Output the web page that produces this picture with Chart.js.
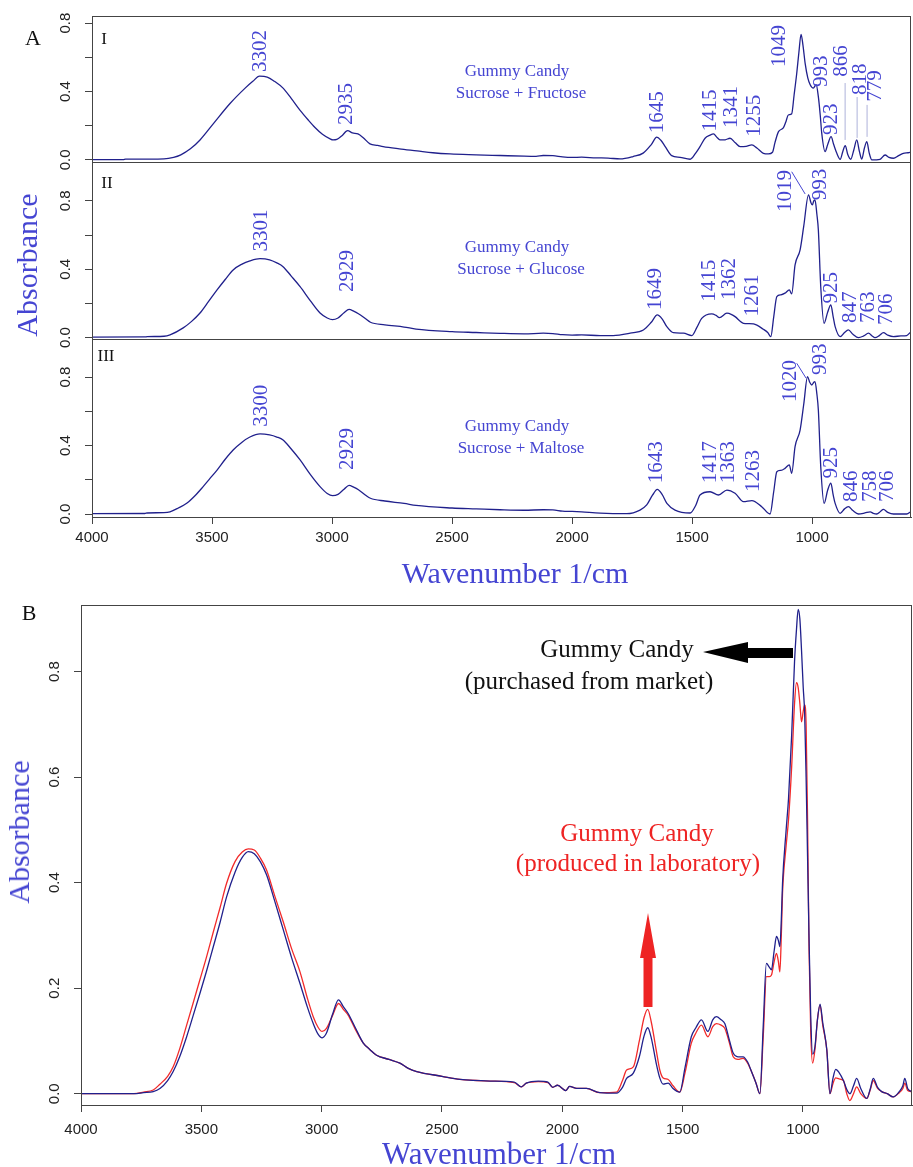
<!DOCTYPE html>
<html>
<head>
<meta charset="utf-8">
<script src="https://cdn.jsdelivr.net/npm/chart.js@4.4.0/dist/chart.umd.min.js"></script>
<style>
body { margin: 0; background: #fff; }
#wrap { position: relative; width: 913px; height: 1167px; overflow: hidden; background: #fff; }
canvas { position: absolute; left: 0; }
.t { position: absolute; transform: translate(-50%, -50%); white-space: nowrap; font-family: "Liberation Serif", serif; line-height: 1; color: #111; }
.blue { color: #4545d2; }
.red { color: #ee2424; }
.rot { transform: translate(-50%, -50%) rotate(-90deg); }
</style>
</head>
<body>
<div id="wrap">
  <canvas id="cI" width="913" height="178" style="top:0px"></canvas>
  <canvas id="cII" width="913" height="212" style="top:140px"></canvas>
  <canvas id="cIII" width="913" height="270" style="top:320px"></canvas>
  <canvas id="cB" width="913" height="587" style="top:580px"></canvas>

  <div class="t" style="left:33px;top:38px;font-size:22px">A</div>
  <div class="t" style="left:104px;top:38px;font-size:17px">I</div>
  <div class="t" style="left:107px;top:182px;font-size:17px">II</div>
  <div class="t" style="left:106px;top:355px;font-size:17px">III</div>
  <div class="t blue" style="left:517px;top:70px;font-size:17px">Gummy Candy</div>
  <div class="t blue" style="left:521px;top:92px;font-size:17px">Sucrose + Fructose</div>
  <div class="t blue" style="left:517px;top:246px;font-size:17px">Gummy Candy</div>
  <div class="t blue" style="left:521px;top:268px;font-size:17px">Sucrose + Glucose</div>
  <div class="t blue" style="left:517px;top:425px;font-size:17px">Gummy Candy</div>
  <div class="t blue" style="left:521px;top:447px;font-size:17px">Sucrose + Maltose</div>
  <div class="t blue rot" style="left:27px;top:265px;font-size:30px">Absorbance</div>
  <div class="t blue" style="left:515px;top:573px;font-size:30px">Wavenumber 1/cm</div>

  <div class="t" style="left:29px;top:613px;font-size:22px">B</div>
  <div class="t blue rot" style="left:19px;top:832px;font-size:30px">Absorbance</div>
  <div class="t blue" style="left:499px;top:1153px;font-size:31px">Wavenumber 1/cm</div>
  <div class="t" style="left:617px;top:648px;font-size:25px">Gummy Candy</div>
  <div class="t" style="left:589px;top:680px;font-size:25px">(purchased from market)</div>
  <div class="t red" style="left:637px;top:832px;font-size:25px">Gummy Candy</div>
  <div class="t red" style="left:638px;top:862px;font-size:25px">(produced in laboratory)</div>
</div>
<script>
// spectrum I : sucrose + fructose
const wnI = [4000,3870,3860,3760,3700,3660,3630,3590,3550,3490,
  3425,3362,3330,3302,3270,3240,3204,3170,3133,3100,
  3071,3040,3008,2996,2980,2960,2935,2915,2892,2870,
  2842,2810,2787,2720,2646,2580,2508,2400,2300,2200,
  2150,2120,2080,2040,2000,1960,1900,1850,1800,1746,
  1704,1670,1647,1630,1612,1585,1550,1508,1485,1467,
  1446,1425,1411,1395,1383,1362,1342,1320,1300,1275,
  1251,1230,1203,1182,1165,1155,1140,1120,1110,1099,
  1085,1075,1064,1055,1046,1038,1029,1018,1008,995,
  983,974,966,960,946,935,921,910,897,883,
  872,862,851,839,826,814,803,793,782,772,
  762,751,717,696,680,661,640,620,600,588];
const absI = [0.002,0.002,0.005,0.005,0.006,0.015,0.03,0.065,0.117,0.22,
  0.33,0.42,0.46,0.49,0.485,0.46,0.42,0.36,0.29,0.235,
  0.19,0.15,0.123,0.117,0.12,0.14,0.171,0.158,0.152,0.13,
  0.094,0.085,0.078,0.065,0.053,0.042,0.035,0.03,0.026,0.022,
  0.021,0.026,0.025,0.018,0.015,0.016,0.012,0.011,0.006,0.02,
  0.04,0.09,0.133,0.115,0.078,0.025,0.015,0.004,0.04,0.078,
  0.127,0.145,0.152,0.13,0.117,0.118,0.127,0.1,0.078,0.08,
  0.088,0.07,0.039,0.035,0.045,0.1,0.166,0.187,0.22,0.263,
  0.27,0.38,0.507,0.63,0.735,0.67,0.565,0.48,0.44,0.42,
  0.44,0.37,0.26,0.158,0.049,0.09,0.136,0.09,0.039,0.004,
  0.05,0.084,0.03,0.004,0.06,0.117,0.05,0.005,0.07,0.107,
  0.04,0.0,0.004,0.029,0.015,0.01,0.025,0.039,0.042,0.045];

// spectrum II : sucrose + glucose
const wnII = [4000,3780,3770,3700,3675,3620,3585,3550,3515,3479,
  3445,3412,3375,3342,3300,3260,3230,3204,3170,3133,
  3090,3050,3020,2998,2975,2950,2929,2910,2890,2860,
  2840,2780,2700,2650,2500,2400,2300,2200,2120,2080,
  2040,2000,1960,1883,1829,1758,1703,1670,1645,1625,
  1605,1578,1536,1501,1480,1460,1418,1400,1386,1355,
  1335,1321,1286,1265,1244,1203,1185,1172,1160,1147,
  1130,1113,1095,1085,1071,1050,1035,1015,1005,999,
  993,988,980,974,964,950,935,922,912,904,
  883,865,849,830,807,785,765,750,738,720,
  703,685,661,630,606,588];
const absII = [0.003,0.004,0.006,0.008,0.016,0.057,0.095,0.144,0.21,0.279,
  0.34,0.396,0.43,0.449,0.462,0.455,0.437,0.415,0.36,0.298,
  0.215,0.144,0.115,0.105,0.115,0.145,0.165,0.155,0.14,0.11,
  0.09,0.075,0.062,0.05,0.035,0.03,0.025,0.022,0.026,0.024,
  0.017,0.015,0.016,0.012,0.012,0.026,0.045,0.09,0.133,0.11,
  0.064,0.029,0.026,0.012,0.06,0.113,0.139,0.13,0.117,0.143,
  0.135,0.123,0.084,0.082,0.08,0.049,0.03,0.006,0.12,0.24,
  0.25,0.26,0.279,0.256,0.425,0.513,0.65,0.835,0.79,0.776,
  0.8,0.805,0.72,0.63,0.298,0.084,0.15,0.191,0.12,0.064,
  0.006,0.03,0.045,0.02,0.0,0.01,0.026,0.01,0.0,0.012,
  0.029,0.015,0.006,0.01,0.012,0.035];

// spectrum III : sucrose + maltose
const wnIII = [4000,3780,3770,3700,3675,3640,3604,3570,3537,3510,
  3479,3445,3412,3375,3342,3300,3260,3230,3204,3170,
  3133,3090,3050,3020,2998,2975,2950,2929,2910,2890,
  2860,2840,2780,2700,2650,2500,2400,2300,2200,2120,
  2080,2040,2000,1960,1883,1772,1717,1689,1665,1645,
  1625,1605,1571,1508,1485,1467,1425,1390,1355,1321,
  1286,1251,1210,1175,1160,1147,1130,1113,1095,1085,
  1071,1050,1035,1019,1010,1001,993,988,980,974,
  964,950,935,922,912,904,883,865,849,830,
  807,780,758,745,731,715,703,685,661,606,
  588];
const absIII = [0.002,0.003,0.006,0.008,0.013,0.035,0.064,0.108,0.16,0.205,
  0.257,0.32,0.374,0.42,0.45,0.468,0.462,0.45,0.433,0.38,
  0.316,0.23,0.16,0.12,0.107,0.115,0.145,0.167,0.157,0.142,
  0.11,0.092,0.076,0.062,0.05,0.035,0.03,0.025,0.022,0.025,
  0.024,0.017,0.015,0.012,0.005,0.002,0.023,0.053,0.11,0.144,
  0.115,0.062,0.023,0.006,0.05,0.111,0.13,0.111,0.14,0.121,
  0.072,0.078,0.043,0.0,0.13,0.247,0.255,0.267,0.287,0.238,
  0.394,0.491,0.64,0.803,0.77,0.754,0.77,0.774,0.7,0.608,
  0.277,0.062,0.14,0.18,0.11,0.062,0.004,0.03,0.043,0.02,
  0.0,0.006,0.013,0.004,0.0,0.015,0.027,0.01,0.0,0.0,
  0.014];

// panel B : market (navy) vs laboratory (red)
const wnB = [4000,3780,3740,3700,3672,3640,3617,3590,3561,3534,
  3506,3478,3450,3422,3395,3360,3330,3305,3280,3255,
  3229,3195,3159,3125,3090,3060,3035,3015,2998,2980,
  2955,2930,2910,2890,2860,2827,2800,2772,2720,2675,
  2640,2605,2500,2425,2300,2200,2170,2150,2100,2060,
  2040,2020,1985,1970,1940,1900,1844,1775,1750,1733,
  1705,1680,1660,1645,1630,1610,1595,1581,1560,1540,
  1512,1490,1464,1445,1422,1395,1375,1360,1340,1325,
  1305,1290,1270,1249,1230,1214,1195,1179,1165,1152,
  1140,1131,1120,1110,1102,1096,1090,1085,1070,1060,
  1047,1035,1027,1020,1013,1006,999,993,987,981,
  975,968,960,950,940,929,918,901,888,875,
  864,850,832,818,805,790,777,760,735,720,
  708,690,673,650,625,600,585,577,565,549];
const absMarket = [0,0,0.002,0.004,0.01,0.025,0.042,0.07,0.108,0.148,
  0.19,0.233,0.279,0.325,0.373,0.42,0.448,0.459,0.455,0.44,
  0.415,0.365,0.31,0.258,0.209,0.165,0.133,0.113,0.106,0.115,
  0.15,0.178,0.165,0.152,0.125,0.096,0.084,0.073,0.065,0.058,
  0.048,0.042,0.033,0.027,0.024,0.022,0.013,0.02,0.024,0.022,
  0.012,0.016,0.006,0.014,0.01,0.01,0.002,0.001,0.012,0.029,
  0.039,0.07,0.11,0.125,0.105,0.058,0.03,0.018,0.02,0.01,
  0.003,0.05,0.108,0.125,0.14,0.118,0.14,0.146,0.14,0.133,
  0.1,0.077,0.07,0.07,0.06,0.042,0.02,0.0,0.13,0.247,
  0.24,0.235,0.27,0.298,0.29,0.279,0.33,0.399,0.5,0.56,
  0.68,0.82,0.88,0.918,0.9,0.84,0.77,0.72,0.6,0.45,
  0.3,0.15,0.075,0.09,0.14,0.17,0.135,0.083,0.0,0.03,
  0.046,0.04,0.025,0.008,0.0,0.015,0.029,0.01,-0.009,0.01,
  0.029,0.012,0.004,0.0,-0.006,0.004,0.015,0.029,0.01,0.004];
const absLab = [0,0,0.003,0.007,0.018,0.033,0.051,0.085,0.13,0.172,
  0.216,0.26,0.307,0.353,0.399,0.44,0.458,0.464,0.462,0.447,
  0.424,0.375,0.325,0.275,0.231,0.182,0.146,0.126,0.118,0.124,
  0.148,0.171,0.16,0.149,0.122,0.096,0.084,0.073,0.065,0.058,
  0.048,0.042,0.033,0.027,0.024,0.021,0.013,0.02,0.023,0.021,
  0.012,0.016,0.006,0.014,0.01,0.01,0.002,0.003,0.025,0.045,
  0.051,0.1,0.145,0.16,0.135,0.083,0.045,0.03,0.027,0.015,
  0.003,0.04,0.096,0.115,0.13,0.108,0.127,0.133,0.13,0.124,
  0.095,0.07,0.065,0.067,0.058,0.042,0.02,0.0,0.11,0.222,
  0.222,0.225,0.25,0.266,0.25,0.231,0.3,0.38,0.47,0.52,
  0.62,0.74,0.779,0.77,0.74,0.705,0.725,0.737,0.7,0.52,
  0.28,0.12,0.058,0.085,0.14,0.168,0.13,0.083,0.0,0.02,
  0.03,0.028,0.025,0.0,-0.013,0.0,0.013,0.0,-0.009,0.008,
  0.025,0.01,0.004,0.0,-0.006,0.002,0.01,0.02,0.006,0.004];

const xTicks = [4000, 3500, 3000, 2500, 2000, 1500, 1000];
const xTickLabels = ['4000', '3500', '3000', '2500', '2000', '1500', '1000'];
const yTicks = [0, 0.2, 0.4, 0.6, 0.8];
const yTickLabelsA = ['0.0', '', '0.4', '', '0.8'];
const yTickLabelsB = ['0.0', '0.2', '0.4', '0.6', '0.8'];

// peak labels: text, wavenumber, absorbance at the foot of the label
const peaksI = [['3302',3300,0.515],['2935',2938,0.205],['1645',1644,0.156],['1415',1422,0.166],
  ['1341',1337,0.187],['1255',1242,0.135],['1049',1137,0.544],['993',963,0.427],['923',918,0.146],
  ['866',876,0.487],['818',800,0.38],['779',737,0.34]];
const peaksII = [['3301',3292,0.503],['2929',2935,0.267],['1649',1654,0.162],['1415',1429,0.21],
  ['1362',1346,0.22],['1261',1248,0.123],['1019',1110,0.734],['993',967,0.804],['925',921,0.2],
  ['847',842,0.085],['763',767,0.085],['706',689,0.074]];
const peaksIII = [['3300',3292,0.51],['2929',2935,0.257],['1643',1647,0.18],['1417',1425,0.18],
  ['1363',1349,0.18],['1263',1244,0.129],['1020',1092,0.655],['993',967,0.813],['925',918,0.208],
  ['846',835,0.07],['758',758,0.07],['706',686,0.07]];
const leadersI = [[862.5,0.45,862.5,0.117],[812.5,0.368,812.5,0.129],[771,0.322,771,0.135]];
const leadersII = [[1085,0.97,1029,0.84]];
const leadersIII = [[1064,0.881,1025,0.794]];

const NAVY = '#20208c', RED = '#f22a2a', LBL = '#4545d2', AX = '#444';

function series(wn, abs, color) {
  return {
    data: wn.map((w, i) => ({x: w, y: abs[i]})),
    borderColor: color, borderWidth: 1.3, pointRadius: 0, fill: false,
    cubicInterpolationMode: 'monotone'
  };
}

function annotate(cfg) {
  return {
    id: 'annotate',
    afterDatasetsDraw(chart) {
      const {ctx, chartArea: a, scales: {x, y}} = chart;
      ctx.save();
      ctx.strokeStyle = AX; ctx.lineWidth = 1;
      ctx.strokeRect(Math.round(a.left) + 0.5, Math.round(a.top) + 0.5,
        Math.round(a.right - a.left) - 1, Math.round(a.bottom - a.top));
      // rotated y tick labels
      ctx.fillStyle = '#222'; ctx.font = '15px "Liberation Sans"';
      ctx.textAlign = 'center'; ctx.textBaseline = 'middle';
      yTicks.forEach((v, i) => {
        const t = cfg.yLabels[i];
        if (!t) return;
        ctx.save();
        ctx.translate(cfg.yLabelX, y.getPixelForValue(v));
        ctx.rotate(-Math.PI / 2);
        ctx.fillText(t, 0, 0);
        ctx.restore();
      });
      // leader lines
      (cfg.leaders || []).forEach(l => {
        ctx.strokeStyle = l[0] === l[2] ? '#aeb2da' : LBL; ctx.lineWidth = 1;
        ctx.beginPath();
        ctx.moveTo(x.getPixelForValue(l[0]), y.getPixelForValue(l[1]));
        ctx.lineTo(x.getPixelForValue(l[2]), y.getPixelForValue(l[3]));
        ctx.stroke();
      });
      // peak labels
      ctx.fillStyle = LBL; ctx.font = '21px "Liberation Serif"';
      ctx.textAlign = 'left'; ctx.textBaseline = 'middle';
      (cfg.peaks || []).forEach(p => {
        ctx.save();
        ctx.translate(x.getPixelForValue(p[1]), y.getPixelForValue(p[2]));
        ctx.rotate(-Math.PI / 2);
        ctx.fillText(p[0], 0, 0);
        ctx.restore();
      });
      if (cfg.extra) cfg.extra(ctx);
      ctx.restore();
    }
  };
}

function makeChart(id, cfg) {
  return new Chart(document.getElementById(id), {
    type: 'line',
    data: {datasets: cfg.sets},
    options: {
      responsive: false, animation: false, devicePixelRatio: 1, events: [],
      layout: {autoPadding: false, padding: cfg.pad},
      plugins: {legend: {display: false}, tooltip: {enabled: false}},
      scales: {
        x: {
          type: 'linear', reverse: true, min: cfg.xMin, max: 4000, display: cfg.showX,
          afterBuildTicks: s => { s.ticks = xTicks.map(v => ({value: v})); },
          afterFit: s => { s.height = cfg.xH || 0; },
          grid: {drawOnChartArea: false, drawTicks: true, tickLength: 7, color: AX},
          border: {display: true, color: AX},
          ticks: {autoSkip: false, maxRotation: 0, minRotation: 0, padding: cfg.xPad || 5, color: '#222',
            font: {family: 'Liberation Sans', size: 15}, callback: (v, i) => xTickLabels[i]}
        },
        y: {
          type: 'linear', min: cfg.yMin, max: cfg.yMax,
          afterBuildTicks: s => { s.ticks = yTicks.map(v => ({value: v})); },
          afterFit: s => { s.width = cfg.axisW; },
          grid: {drawOnChartArea: false, drawTicks: true, tickLength: 7, color: AX},
          border: {display: true, color: AX},
          ticks: {display: false}
        }
      }
    },
    plugins: [annotate(cfg)]
  });
}

makeChart('cI', {
  sets: [series(wnI, absI, NAVY)], pad: {top: 16, right: 2, bottom: 16, left: 0},
  xMin: 588, showX: false, yMin: -0.012, yMax: 0.842, axisW: 92,
  yLabels: yTickLabelsA, yLabelX: 66, peaks: peaksI, leaders: leadersI
});
makeChart('cII', {
  sets: [series(wnII, absII, NAVY)], pad: {top: 22, right: 2, bottom: 13, left: 0},
  xMin: 588, showX: false, yMin: -0.008, yMax: 1.027, axisW: 92,
  yLabels: yTickLabelsA, yLabelX: 66, peaks: peaksII, leaders: leadersII
});
makeChart('cIII', {
  sets: [series(wnIII, absIII, NAVY)], pad: {top: 19, right: 2, bottom: 0, left: 0},
  xMin: 588, showX: true, xH: 73, xPad: 5, yMin: -0.0175, yMax: 1.023, axisW: 92,
  yLabels: yTickLabelsA, yLabelX: 66, peaks: peaksIII, leaders: leadersIII
});
makeChart('cB', {
  sets: [series(wnB, absMarket, NAVY), series(wnB, absLab, RED)],
  pad: {top: 25, right: 1, bottom: 0, left: 0},
  xMin: 547, showX: true, xH: 62, xPad: 9, yMin: -0.0214, yMax: 0.9264, axisW: 81,
  yLabels: yTickLabelsB, yLabelX: 55,
  extra: ctx => {
    // black arrow pointing left to the market spectrum text
    ctx.fillStyle = '#000';
    ctx.beginPath();
    ctx.moveTo(703, 72); ctx.lineTo(748, 62); ctx.lineTo(748, 68); ctx.lineTo(793, 68);
    ctx.lineTo(793, 78); ctx.lineTo(748, 78); ctx.lineTo(748, 83); ctx.closePath(); ctx.fill();
    // red arrow pointing up
    ctx.fillStyle = '#ee2424';
    ctx.beginPath();
    ctx.moveTo(648, 333); ctx.lineTo(640, 378); ctx.lineTo(643.5, 378); ctx.lineTo(643.5, 427);
    ctx.lineTo(652.5, 427); ctx.lineTo(652.5, 378); ctx.lineTo(656, 378); ctx.closePath(); ctx.fill();
  }
});
</script>
</body>
</html>
